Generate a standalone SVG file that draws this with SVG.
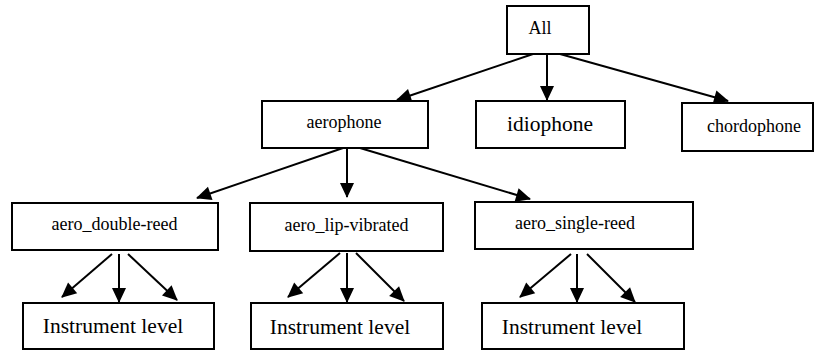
<svg xmlns="http://www.w3.org/2000/svg" width="815" height="351" viewBox="0 0 815 351">
<style>
rect{fill:#fff;stroke:#000;stroke-width:2}
text{fill:#000;text-anchor:middle}
.s{font-size:18px}
.b{font-size:21.5px}
#edges line{stroke:#000;stroke-width:2;marker-end:url(#ah)}
</style>
<defs>
<marker id="ah" markerUnits="userSpaceOnUse" markerWidth="16" markerHeight="16" refX="14" refY="7" orient="auto" overflow="visible">
<path d="M0,0 L15,7 L0,14 z" fill="#000"/>
</marker>
</defs>
<g id="edges">
<line x1="533" y1="54" x2="397" y2="100"/>
<line x1="547" y1="54" x2="547" y2="100"/>
<line x1="560" y1="54" x2="728" y2="101"/>
<line x1="343" y1="148" x2="197" y2="198"/>
<line x1="347" y1="148" x2="347" y2="197"/>
<line x1="360" y1="148" x2="530" y2="199"/>
<line x1="112" y1="254" x2="62" y2="297"/>
<line x1="119" y1="254" x2="119" y2="302"/>
<line x1="128" y1="254" x2="177" y2="300"/>
<line x1="340" y1="253" x2="288" y2="297"/>
<line x1="347" y1="253" x2="347" y2="302"/>
<line x1="356" y1="253" x2="404" y2="301"/>
<line x1="571" y1="254" x2="520" y2="297"/>
<line x1="577" y1="254" x2="577" y2="302"/>
<line x1="587" y1="254" x2="635" y2="302"/>
</g>
<g id="nodes" font-family="'Liberation Serif', 'Times New Roman', serif">
<g id="all"><rect x="507" y="6" width="82" height="48"/><text class="s" x="540" y="34">All</text></g>
<g id="aerophone"><rect x="262" y="101" width="166" height="47"/><text class="s" x="344" y="128">aerophone</text></g>
<g id="idiophone"><rect x="476" y="101" width="149" height="47"/><text class="b" x="550" y="131">idiophone</text></g>
<g id="chordophone"><rect x="682" y="103" width="131" height="48"/><text class="s" x="754" y="132">chordophone</text></g>
<g id="aero_double-reed"><rect x="12" y="203" width="206" height="47"/><text class="s" x="114.5" y="230">aero_double-reed</text></g>
<g id="aero_lip-vibrated"><rect x="250" y="203" width="193" height="48"/><text class="s" x="346.5" y="231">aero_lip-vibrated</text></g>
<g id="aero_single-reed"><rect x="475" y="202" width="218" height="47"/><text class="s" x="575" y="229">aero_single-reed</text></g>
<g id="inst1"><rect x="23" y="303" width="191" height="46"/><text class="b" x="113" y="333">Instrument level</text></g>
<g id="inst2"><rect x="251" y="303" width="192" height="46"/><text class="b" x="340" y="334">Instrument level</text></g>
<g id="inst3"><rect x="482" y="303" width="202" height="46"/><text class="b" x="572" y="334">Instrument level</text></g>
</g>
</svg>
